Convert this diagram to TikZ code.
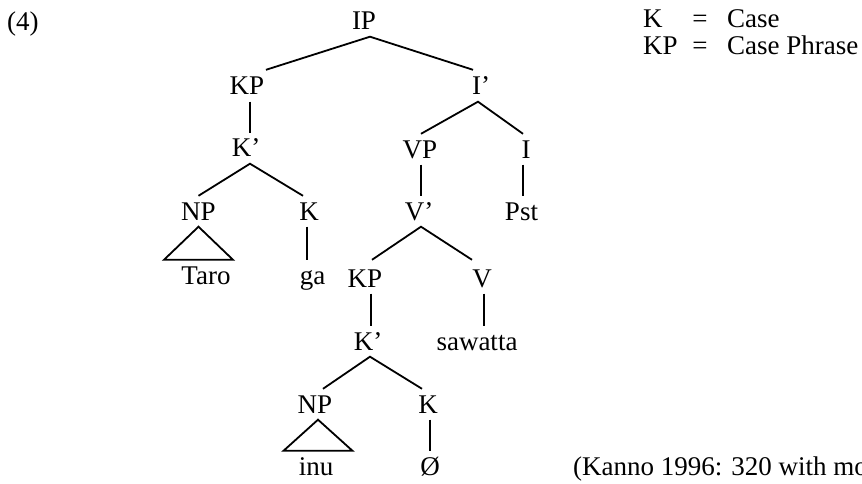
\documentclass[tikz,border=0pt]{standalone}
\usepackage{fontspec}
\setmainfont{Liberation Serif}
\usetikzlibrary{calc}
\begin{document}
\begin{tikzpicture}[x=1pt,y=-1pt,
  lbl/.style={anchor=base,inner sep=0pt,font=\fontsize{27}{31}\selectfont},
  cat/.style={lbl,text height=17.5pt,text depth=0pt,inner ysep=6.5pt},
  branch/.style={line width=1.8pt},
]
\useasboundingbox (0,0) rectangle (862,484);
\clip (0,0) rectangle (862,484);

% example number
\node[lbl,anchor=base west] (ex) at (7,31) {(4)};

% tree nodes
\node[cat] (IP)   at (364,30)  {IP};
\node[cat] (KPa)  at (247,95)  {KP};
\node[cat] (Ib)   at (481,95)  {I’};
\node[cat] (Kba)  at (246,157) {K’};
\node[cat] (VP)   at (420,158) {VP};
\node[cat] (I)    at (526,158) {I};
\node[cat] (NPa)  at (198.5,220) {NP};
\node[cat] (Ka)   at (309,220) {K};
\node[cat] (Vb)   at (419,220) {V’};
\node[cat] (Pst)  at (521.5,220) {Pst};
\node[cat] (Taro) at (206,284) {Taro};
\node[cat] (ga)   at (312.5,284) {ga};
\node[cat] (KPb)  at (365,287) {KP};
\node[cat] (V)    at (482,287) {V};
\node[cat] (Kbb)  at (368,350) {K’};
\node[cat] (saw)  at (477,350) {sawatta};
\node[cat] (NPb)  at (315,413) {NP};
\node[cat] (Kb)   at (428,413) {K};
\node[cat] (inu)  at (316,475) {inu};
\node[cat] (nul)  at (430,475) {Ø};

% branches
\draw[branch] ($(KPa.north)+(19,-1)$) -- ($(IP.south)+(6,0)$) -- ($(Ib.north)+(-8,-1)$);
\draw[branch] ($(KPa.south)+(3,0)$) -- ($(KPa.south |- Kba.north)+(3,0)$);
\draw[branch] (NPa.north) -- ($(Kba.south)+(4,0)$) -- ($(Ka.north)+(-6,0)$);
\draw[branch] ($(VP.north)+(1,0)$) -- ($(Ib.south)+(-3,0)$) -- ($(I.north)+(-3,0)$);
\draw[branch] ($(VP.south)+(1,0)$) -- ($(VP.south |- Vb.north)+(1,0)$);
\draw[branch] ($(I.south)+(-3,0)$) -- ($(I.south |- Pst.north)+(-3,0)$);
\draw[branch] ($(Ka.south)+(-2,0)$) -- ($(Ka.south |- ga.north)+(-2,0)$);
\draw[branch] ($(KPb.north)+(7,-3)$) -- ($(Vb.south)+(2,0)$) -- ($(V.north)+(-10,-3)$);
\draw[branch] ($(KPb.south)+(6,0)$) -- ($(KPb.south |- Kbb.north)+(6,0)$);
\draw[branch] ($(V.south)+(2,0)$) -- ($(V.south |- saw.north)+(2,0)$);
\draw[branch] ($(NPb.north)+(8,0)$) -- ($(Kbb.south)+(2,0)$) -- ($(Kb.north)+(-6,0)$);
\draw[branch] ($(Kb.south)+(2,0)$) -- ($(Kb.south |- nul.north)+(2,0)$);

% roof triangles
\draw[branch,line join=miter] (NPa.south) -- ($(NPa.south |- Taro.north)+(34.5,0)$)
  -- ($(NPa.south |- Taro.north)+(-34.5,0)$) -- cycle;
\draw[branch,line join=miter] ($(NPb.south)+(3,0)$) -- ($(NPb.south |- inu.north)+(37.5,0)$)
  -- ($(NPb.south |- inu.north)+(-31.5,0)$) -- cycle;

% abbreviations
\node[lbl,anchor=base west] (kA) at (643,28) {K};
\node[lbl] (eqA) at (700,28) {=};
\node[lbl,anchor=base west] (caseA) at (727,28) {Case};
\node[lbl,anchor=base west] (kB) at (643,55) {KP};
\node[lbl] (eqB) at (700,55) {=};
\node[lbl,anchor=base west] (caseB) at (727,55) {Case Phrase};

% source
\node[lbl,anchor=base west] (src) at (573,475) {(Kanno 1996: 320 with modifications)};
\end{tikzpicture}
\end{document}
